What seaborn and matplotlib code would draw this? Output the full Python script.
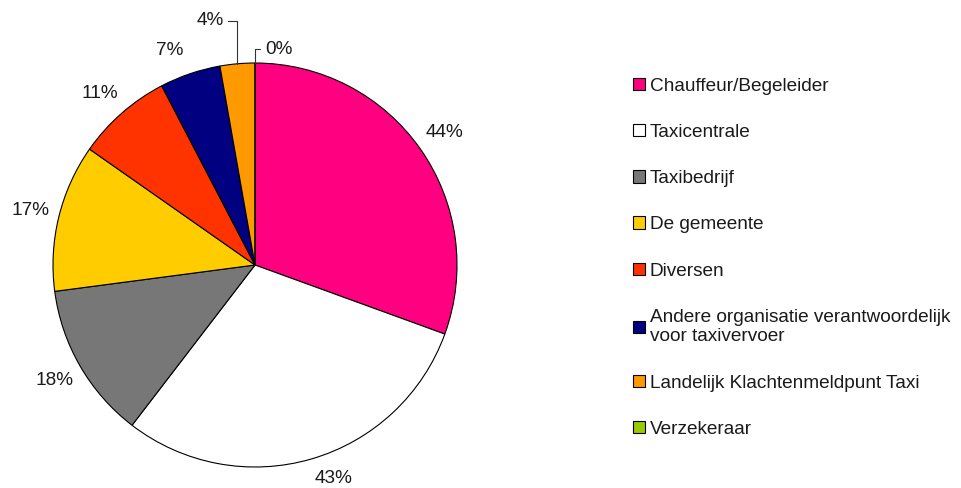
import numpy as np
import matplotlib
matplotlib.use("Agg")
import matplotlib.pyplot as plt
import seaborn as sns

# data (multiple answers, so the shares add up to 144%)
categories = ["Chauffeur/Begeleider", "Taxicentrale", "Taxibedrijf", "De gemeente",
              "Diversen", "Andere organisatie verantwoordelijk\nvoor taxivervoer",
              "Landelijk Klachtenmeldpunt Taxi", "Verzekeraar"]
values = [44, 43, 18, 17, 11, 7, 4, 0]
pct_labels = ["44%", "43%", "18%", "17%", "11%", "7%", "4%", "0%"]
colors = ["#FF0080", "#FFFFFF", "#777777", "#FFCC00", "#FF3300", "#000080", "#FF9900", "#99CC00"]

# small angle nudges (degrees) and distances for the outside labels, like Excel's best fit
label_nudge = [0, 4, 0, 0, 1, 3]
label_dist = [1.145, 1.125, 1.145, 1.145, 1.145, 1.145]

sns.set_theme(style="white")
plt.rcParams["font.family"] = ["Liberation Sans", "DejaVu Sans"]
palette = sns.color_palette(colors)
fs = 13.7
txt_color = "#1a1a1a"

fig = plt.figure(figsize=(9.62, 4.88), dpi=100)
ax = fig.add_axes([53 / 962, 21 / 488, 404 / 962, 404 / 488])

wedges, _ = ax.pie(values, colors=palette, startangle=90, counterclock=False,
                   radius=1, wedgeprops=dict(edgecolor="black", linewidth=0.8))
ax.set_xlim(-1, 1)
ax.set_ylim(-1, 1)

# slice labels
for i, w in enumerate(wedges):
    mid_deg = (w.theta1 + w.theta2) / 2
    if i < 6:
        a = np.deg2rad(mid_deg + label_nudge[i])
        r = label_dist[i]
        ax.text(r * np.cos(a), r * np.sin(a), pct_labels[i], ha="center",
                va="center", fontsize=fs, color=txt_color)
        continue
    a = np.deg2rad(mid_deg)
    x, y = np.cos(a), np.sin(a)
    if i == 6:
        offset, ha, rel = (-14, 43), "right", (1, 0.5)
    else:
        offset, ha, rel = (10, 14), "left", (0, 0.5)
    ax.annotate(pct_labels[i], xy=(x, y), xytext=offset, textcoords="offset pixels",
                ha=ha, va="center", fontsize=fs, color=txt_color,
                arrowprops=dict(arrowstyle="-", color="#333333", lw=0.8, relpos=rel,
                                connectionstyle="angle,angleA=0,angleB=90,rad=0",
                                shrinkA=1, shrinkB=0))

fig.legend(wedges, categories, loc="upper left", bbox_to_anchor=(633 / 962, 410.3 / 488),
           frameon=False, fontsize=fs, handlelength=0.63, handleheight=0.63,
           handletextpad=0.26, labelspacing=1.535, borderpad=0, borderaxespad=0,
           labelcolor=txt_color)

plt.savefig("out.png", dpi=100)
